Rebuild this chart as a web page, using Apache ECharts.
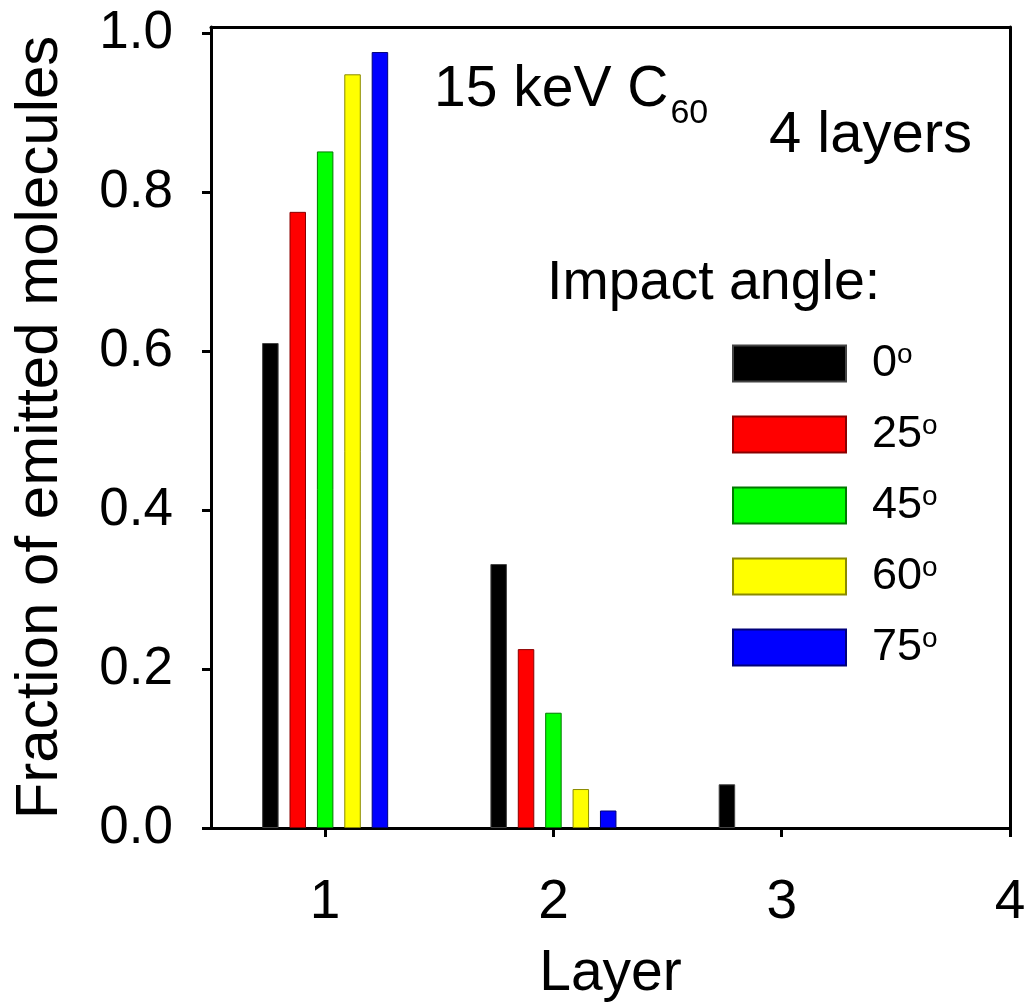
<!DOCTYPE html>
<html><head><meta charset="utf-8">
<script src="https://cdn.jsdelivr.net/npm/echarts@6/dist/echarts.min.js"></script>
<style>html,body{margin:0;padding:0;background:#fff}#c{width:1027px;height:1002px}</style>
</head><body><div id="c"></div>
<script>
// ---- data ----
const layers = [1, 2, 3];
const angleNames = ['0', '25', '45', '60', '75'];
const frac0  = [0.610, 0.332, 0.055];
const frac25 = [0.775, 0.225, null];
const frac45 = [0.851, 0.145, null];
const frac60 = [0.948, 0.049, null];
const frac75 = [0.976, 0.022, null];
const xTickValues = [1, 2, 3, 4];
const yTickValues = [0, 0.2, 0.4, 0.6, 0.8, 1.0];
const xTitle = 'Layer';
const yTitle = 'Fraction of emitted molecules';

// ---- style ----
const FONT = '"Liberation Sans", Arial, Helvetica, sans-serif';
const colors = ['#000000', '#ff0000', '#00ff00', '#ffff00', '#0000ff'];
const borders = ['#444444', '#8a0000', '#007a00', '#8a8a00', '#00007a'];
const allSeries = [frac0, frac25, frac45, frac60, frac75];

const chart = echarts.init(document.getElementById('c'), null, {renderer: 'canvas'});

const series = allSeries.map((vals, i) => ({
  name: angleNames[i],
  type: 'bar',
  xAxisIndex: 0,
  yAxisIndex: 0,
  barWidth: 16.5,
  barGap: '66%',
  data: layers.map((l, j) => [l, vals[j]]),
  itemStyle: {color: colors[i], borderColor: borders[i], borderWidth: 1},
  emphasis: {disabled: true},
  animation: false
}));

const axisLineStyle = {color: '#000', width: 3};

const option = {
  animation: false,
  backgroundColor: '#ffffff',
  textStyle: {fontFamily: FONT},
  grid: {left: 211, right: 17, top: 27, bottom: 174, containLabel: false, outerBoundsMode: 'none'},
  xAxis: [{
    type: 'value', position: 'bottom', min: 0.5, max: 4,
    axisLine: {show: true, onZero: false, lineStyle: axisLineStyle},
    axisTick: {show: true, inside: false, length: 9, lineStyle: {width: 3, color: '#000'}, customValues: xTickValues},
    axisLabel: {show: true, customValues: xTickValues, fontSize: 55, margin: 47, color: '#000', fontFamily: FONT},
    splitLine: {show: false},
    name: xTitle, nameLocation: 'middle', nameGap: 118,
    nameTextStyle: {fontSize: 57, color: '#000', fontFamily: FONT}
  }, {
    type: 'value', position: 'top', min: 0.5, max: 4,
    axisLine: {show: true, onZero: false, lineStyle: axisLineStyle},
    axisTick: {show: false}, axisLabel: {show: false}, splitLine: {show: false}
  }],
  yAxis: [{
    type: 'value', position: 'left', min: 0, max: 1.0075,
    axisLine: {show: true, onZero: false, lineStyle: axisLineStyle},
    axisTick: {show: true, inside: false, length: 9, lineStyle: {width: 3, color: '#000'}, customValues: yTickValues},
    axisLabel: {show: true, customValues: yTickValues, fontSize: 53, margin: 38, color: '#000', fontFamily: FONT,
      formatter: v => v.toFixed(1)},
    splitLine: {show: false},
    name: yTitle, nameLocation: 'middle', nameGap: 141,
    nameTextStyle: {fontSize: 60, color: '#000', fontFamily: FONT}
  }, {
    type: 'value', position: 'right', min: 0, max: 1.0075,
    axisLine: {show: true, onZero: false, lineStyle: axisLineStyle},
    axisTick: {show: false}, axisLabel: {show: false}, splitLine: {show: false}
  }],
  legend: {
    show: true, orient: 'vertical', left: 732, top: 341,
    itemWidth: 113, itemHeight: 36, itemGap: 26, icon: 'rect',
    padding: 0,
    data: angleNames,
    selectedMode: false,
    formatter: name => '{n|' + name + '}{s|o}',
    textStyle: {
      color: '#000', fontFamily: FONT,
      rich: {
        n: {fontSize: 45, fontFamily: FONT, color: '#000', padding: [0, 0, 0, 21], lineHeight: 45},
        s: {fontSize: 28, fontFamily: FONT, color: '#000', verticalAlign: 'top', lineHeight: 27}
      }
    }
  },
  graphic: [
    {type: 'text', left: 434, top: 62, silent: true,
      style: {text: '{a|15 keV C}{b|60}', fill: '#000',
        rich: {a: {fontSize: 57, fontFamily: FONT, lineHeight: 60, verticalAlign: 'bottom'},
               b: {fontSize: 34, fontFamily: FONT, lineHeight: 34, verticalAlign: 'bottom', padding: [0, 0, -12, 2]}}}},
    {type: 'text', left: 769, top: 107, silent: true,
      style: {text: '4 layers', fill: '#000', fontSize: 58, fontFamily: FONT}},
    {type: 'text', left: 547, top: 256, silent: true,
      style: {text: 'Impact angle:', fill: '#000', fontSize: 55.5, fontFamily: FONT}}
  ],
  series: series
};
chart.setOption(option);
</script>
</body></html>
